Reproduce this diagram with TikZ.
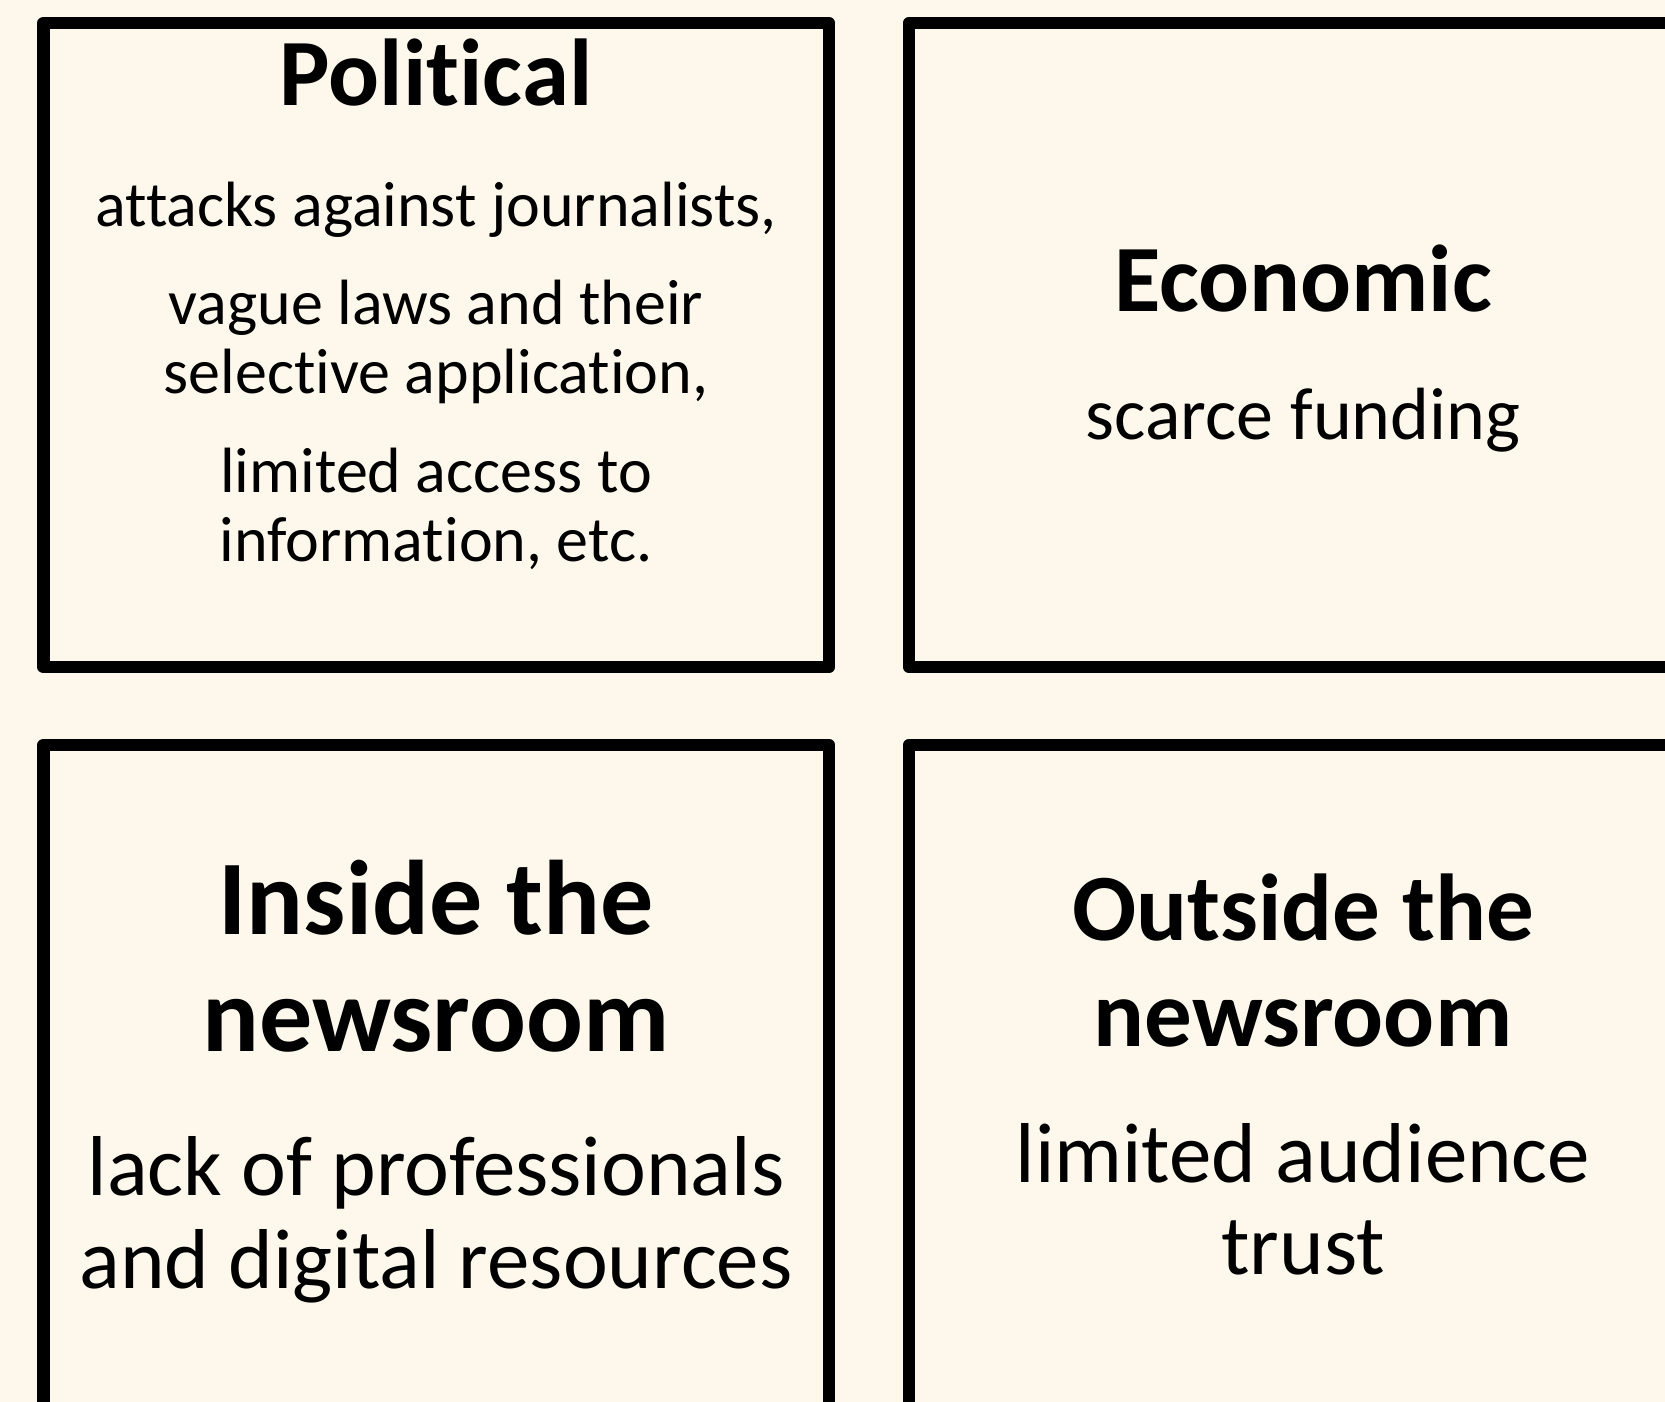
\documentclass[tikz,border=0pt]{standalone}
\usepackage{fontspec}
\setmainfont{Carlito}[Ligatures=NoCommon]
\definecolor{paper}{RGB}{253,248,235}

\begin{document}
\begin{tikzpicture}
[x=0.5pt, y=-0.5pt,
       frame/.style={draw=black, line width=6.25pt, line join=round},
       head/.style={anchor=base, inner sep=0pt, font=\fontsize{#1}{#1}\bfseries\selectfont},
       line/.style={anchor=base, inner sep=0pt, font=\fontsize{#1}{#1}\selectfont}]
  \useasboundingbox (0,0) rectangle (1665,1402);
  \clip (0,0) rectangle (1665,1402);
  \fill[paper] (0,0) rectangle (1665,1402);
  % the four boxes
  \draw[frame] (43.5,23) rectangle (829,667);
  \draw[frame] (909,23) rectangle (1720,667);
  \draw[frame] (43.5,745) rectangle (829,1440);
  \draw[frame] (909,745) rectangle (1720,1440);
  % political
  \node[head=47.5pt] (pol) at (436,106) {Political};
  \node[line=32pt] (pol1) at (436,226) {attacks against journalists,};
  \node[line=32pt] (pol2) at (436,324) {vague laws and their};
  \node[line=32pt] (pol3) at (436,393) {selective application,};
  \node[line=32pt] (pol4) at (436,492) {limited access to};
  \node[line=32pt] (pol5) at (436,561) {information, etc.};
  % economic
  \node[head=47.5pt] (eco) at (1303,311) {Economic};
  \node[line=37pt] (eco1) at (1303,439) {scarce funding};
  % inside
  \node[head=53pt] (ins) at (436,934) {Inside the};
  \node[head=53pt] (ins2) at (436,1051) {newsroom};
  \node[line=42.5pt] (ins3) at (436,1195) {lack of professionals};
  \node[line=42.5pt] (ins4) at (436,1288) {and digital resources};
  % outside
  \node[head=47.5pt] (out) at (1303,940) {Outside the};
  \node[head=47.5pt] (out2) at (1303,1046) {newsroom};
  \node[line=42.5pt] (out3) at (1303,1182) {limited audience};
  \node[line=42.5pt] (out4) at (1303,1274) {trust};
\end{tikzpicture}
\end{document}
